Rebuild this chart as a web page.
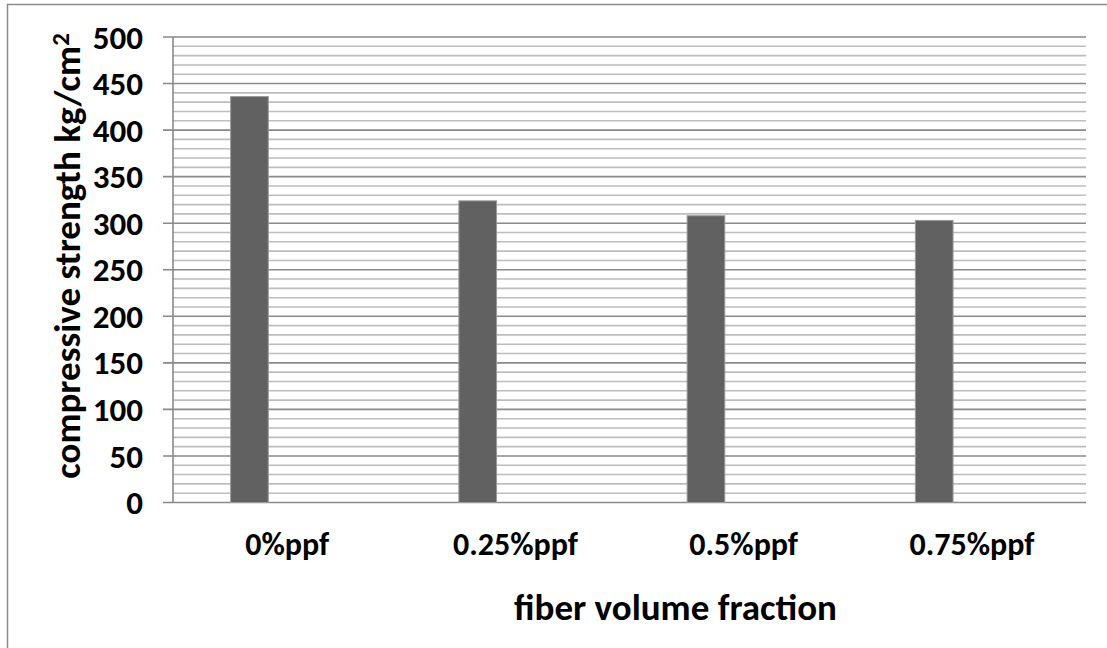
<!DOCTYPE html>
<html lang="en">
  <head>
    <meta charset="UTF-8" />
    <title>compressive strength vs fiber volume fraction</title>
    <script src="https://d3js.org/d3.v7.min.js"></script>
    <style>
      body {
        margin: 0;
        background: #fff;
      }
      text {
        font-family: Carlito, Calibri, "Open Sans", sans-serif;
        font-weight: bold;
        fill: #000;
      }
    </style>
  </head>
  <body>
    <div id="chart"></div>

    <script>
      // data
      const categories = ["0%ppf", "0.25%ppf", "0.5%ppf", "0.75%ppf"];
      const strength = [436, 324, 308, 303];
      const yTicks = [0, 50, 100, 150, 200, 250, 300, 350, 400, 450, 500];
      const minorTicks = d3.range(0, 501, 10);
      // the bar sits in the first of three series slots, like the source chart
      const slots = [0, 1, 2];

      const width = 1107;
      const height = 648;
      const margin = { top: 37, right: 21, bottom: 145, left: 173 };

      const svg = d3
        .select("#chart")
        .append("svg")
        .attr("width", width)
        .attr("height", height);

      // outer chart border
      svg
        .append("rect")
        .attr("x", 7.5)
        .attr("y", 4.5)
        .attr("width", width + 10)
        .attr("height", height + 10)
        .attr("fill", "none")
        .attr("stroke", "#8c8c8c")
        .attr("stroke-width", 1.5);

      const x = d3
        .scaleBand()
        .domain(categories)
        .range([margin.left, width - margin.right])
        .padding(0);

      const slot = d3
        .scaleBand()
        .domain(slots)
        .range([0, x.bandwidth()])
        .paddingInner(0)
        .paddingOuter(1.53);

      const y = d3
        .scaleLinear()
        .domain([0, 500])
        .range([height - margin.bottom - 0.5, margin.top]);

      const plotRight = width - margin.right;

      // minor gridlines
      svg
        .append("g")
        .selectAll("line")
        .data(minorTicks.filter((d) => d % 50 !== 0))
        .join("line")
        .attr("x1", margin.left)
        .attr("x2", plotRight)
        .attr("y1", (d) => y(d))
        .attr("y2", (d) => y(d))
        .attr("stroke", "#bdbdbd")
        .attr("stroke-width", 1.6);

      // major gridlines with tick stubs
      svg
        .append("g")
        .selectAll("line")
        .data(yTicks)
        .join("line")
        .attr("x1", margin.left - 10)
        .attr("x2", plotRight)
        .attr("y1", (d) => y(d))
        .attr("y2", (d) => y(d))
        .attr("stroke", "#8a8a8a")
        .attr("stroke-width", 1.6);

      // y axis line
      svg
        .append("line")
        .attr("x1", margin.left)
        .attr("x2", margin.left)
        .attr("y1", y(500))
        .attr("y2", y(0))
        .attr("stroke", "#8a8a8a")
        .attr("stroke-width", 1.6);

      // y tick labels
      svg
        .append("g")
        .selectAll("text")
        .data(yTicks)
        .join("text")
        .attr("x", margin.left - 30)
        .attr("y", (d) => y(d))
        .attr("dy", "0.35em")
        .attr("text-anchor", "end")
        .style("font-size", "33px")
        .text((d) => d);

      // bars
      svg
        .append("g")
        .selectAll("rect")
        .data(categories)
        .join("rect")
        .attr("x", (d) => x(d) + slot(0))
        .attr("y", (d, i) => y(strength[i]))
        .attr("width", slot.bandwidth())
        .attr("height", (d, i) => y(0) - y(strength[i]))
        .attr("fill", "#616161")
        .attr("stroke", "#9a9a9a")
        .attr("stroke-width", 1);

      // category labels
      svg
        .append("g")
        .selectAll("text")
        .data(categories)
        .join("text")
        .attr("x", (d) => x(d) + x.bandwidth() / 2)
        .attr("y", 555)
        .attr("text-anchor", "middle")
        .style("font-size", "32px")
        .text((d) => d);

      // axis titles
      svg
        .append("text")
        .attr("x", (margin.left + plotRight) / 2 + 46)
        .attr("y", 620)
        .attr("text-anchor", "middle")
        .style("font-size", "37px")
        .text("fiber volume fraction");

      const yTitle = svg
        .append("text")
        .attr("transform", "translate(80, 256) rotate(-90)")
        .attr("text-anchor", "middle")
        .style("font-size", "37px");
      yTitle.append("tspan").text("compressive strength kg/cm");
      yTitle
        .append("tspan")
        .attr("dy", "-0.45em")
        .style("font-size", "25px")
        .text("2");
    </script>
  </body>
</html>
